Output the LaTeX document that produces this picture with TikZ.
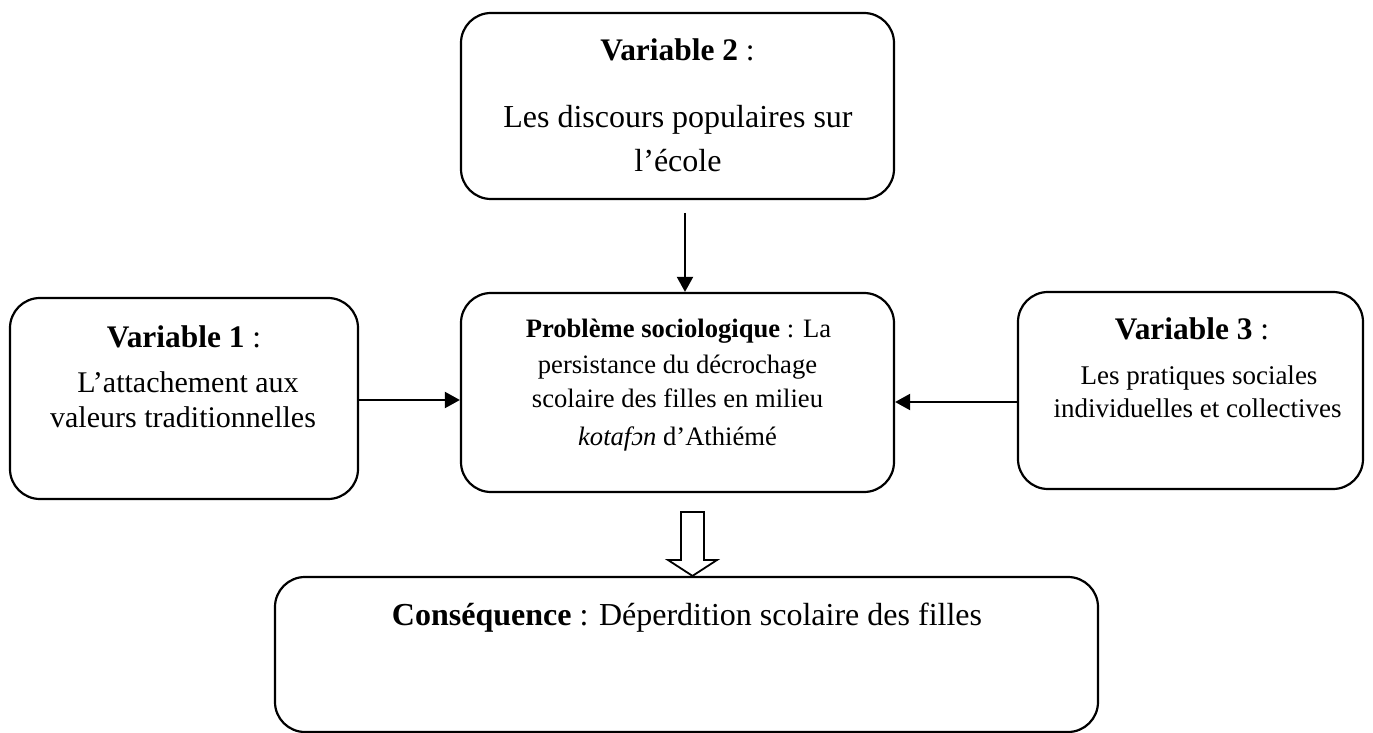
\documentclass[tikz,border=0pt]{standalone}
\usepackage{fontspec}
\setmainfont{Liberation Serif}
\usetikzlibrary{arrows.meta}
\begin{document}
\begin{tikzpicture}[x=0.5pt,y=-0.5pt,
  box/.style={draw, line width=1.1pt, rounded corners=15pt, inner sep=0pt, rectangle},
  t/.style={anchor=base, inner sep=0pt},
  ftitle/.style={font=\fontsize{15.7pt}{18pt}\selectfont},
  fbig/.style={font=\fontsize{16pt}{18pt}\selectfont},
  fmid/.style={font=\fontsize{15pt}{17pt}\selectfont},
  fsmall/.style={font=\fontsize{13.5pt}{16pt}\selectfont},
  fprob/.style={font=\fontsize{13.3pt}{16pt}\selectfont},
  arr/.style={line width=1pt, -{Triangle[length=7.5pt,width=8pt]}}]
\useasboundingbox (0,0) rectangle (1373,733);
% boxes
\node[box, minimum width=216.5pt, minimum height=93pt] (v2) at (677.5,106) {};
\node[box, minimum width=174pt, minimum height=100.5pt] (v1) at (184,398.5) {};
\node[box, minimum width=216.5pt, minimum height=99.5pt] (prob) at (677.5,392.5) {};
\node[box, minimum width=172.5pt, minimum height=98.5pt] (v3) at (1190.5,390.5) {};
\node[box, minimum width=411.5pt, minimum height=77.5pt] (cons) at (686.5,654.5) {};
% texts
\node[t, ftitle] (v2a) at (677.5,61) {\textbf{Variable 2} :};
\node[t, fbig] (v2b) at (678,128) {Les discours populaires sur};
\node[t, fbig] (v2c) at (678,172) {l’école};
\node[t, ftitle] (v1a) at (184,348) {\textbf{Variable 1} :};
\node[t, fmid] (v1b) at (188,393) {L’attachement aux};
\node[t, fmid] (v1c) at (183,427) {valeurs traditionnelles};
\node[t, ftitle] (v3a) at (1192,340) {\textbf{Variable 3} :};
\node[t, fsmall] (v3b) at (1199,385) {Les pratiques sociales};
\node[t, fsmall] (v3c) at (1197.5,417) {individuelles et collectives};
\node[t, fprob] (p1) at (678.5,337) {\textbf{Problème sociologique} : La};
\node[t, fprob] (p2) at (677.5,373) {persistance du décrochage};
\node[t, fprob] (p3) at (677.5,408) {scolaire des filles en milieu};
\node[t, fprob] (p4) at (677.5,445) {\textit{kotafɔn} d’Athiémé};
\node[t, fbig] (c1) at (687,625) {\textbf{Conséquence} : Déperdition scolaire des filles};
% connectors
\coordinate (a2) at (685,213);
\coordinate (a1) at (358,400);
\coordinate (a3) at (1018,402);
\draw[arr] (a2) -- (a2 |- prob.north);
\draw[arr] (v1.east |- a1) -- (prob.west |- a1);
\draw[arr] (v3.west |- a3) -- (prob.east |- a3);
% hollow block arrow
\coordinate (ha) at (692.5,512);
\draw[line width=0.9pt, line join=miter]
  (681,512) -- (704,512) -- (704,560) -- (717,560) -- (cons.north -| ha)
  -- (668,560) -- (681,560) -- cycle;
\end{tikzpicture}
\end{document}
